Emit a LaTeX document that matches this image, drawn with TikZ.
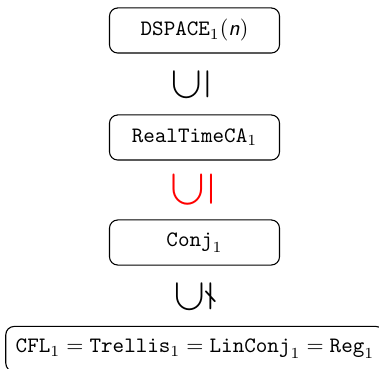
\documentclass[tikz,border=0pt]{standalone}
\usepackage{amssymb}
\begin{document}
\begin{tikzpicture}[x=0.4545pt,y=-0.4545pt,
  classbox/.style={draw,rounded corners=3.8pt,line width=0.5pt,
    minimum width=77.3pt,minimum height=20.5pt,inner sep=0pt},
  widebox/.style={classbox,minimum width=172pt},
  incl/.style={rotate=90,font=\huge,inner sep=0pt},
  strict/.style={incl,text=red,scale=1.12}]
\clip (0,0) rectangle (379,369);
\node[classbox] (dspace) at (194.5,30.5) {$\mathtt{DSPACE}_1(\textsf{\itshape n})$};
\node[incl] (s1) at (191,84.5) {$\subseteq$};
\node[classbox] (rtca) at (194.5,137.5) {$\mathtt{RealTimeCA}_1$};
\node[strict] (s2) at (193,189.5) {$\subseteq$};
\node[classbox] (conj) at (194.5,242.5) {$\mathtt{Conj}_1$};
\node[incl] (s3) at (194,297) {$\subsetneq$};
\node[widebox] (cfl) at (195,349)
  {$\mathtt{CFL}_1=\mathtt{Trellis}_1=\mathtt{LinConj}_1=\mathtt{Reg}_1$};
\end{tikzpicture}
\end{document}
